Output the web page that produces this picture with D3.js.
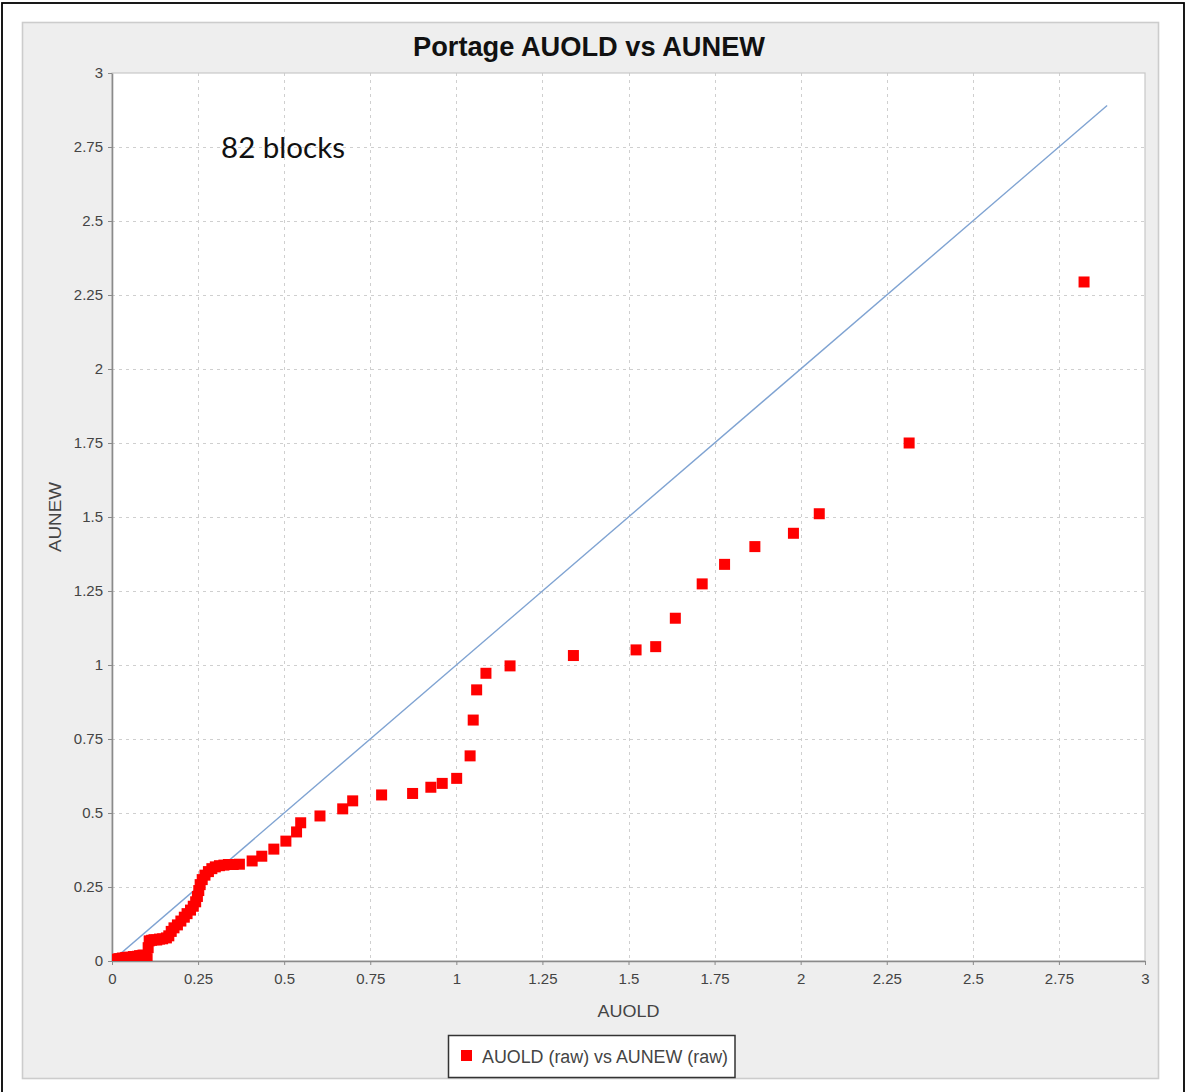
<!DOCTYPE html>
<html>
<head>
<meta charset="utf-8">
<script src="https://cdn.jsdelivr.net/npm/d3@7"></script>
<style>
  html, body { margin: 0; padding: 0; background: #ffffff; }
  svg { display: block; }
</style>
</head>
<body>
<svg id="chart" width="1186" height="1092"></svg>
<script>
// Block grades: old assay (AUOLD) against new assay (AUNEW), 82 blocks
const auold = [
  0.004, 0.008, 0.012, 0.016, 0.020, 0.025, 0.030, 0.035, 0.040, 0.045,
  0.050, 0.056, 0.062, 0.068, 0.074, 0.080, 0.085, 0.090, 0.094, 0.098, 0.102,
  0.105, 0.108, 0.115, 0.122, 0.130, 0.138, 0.147, 0.158,
  0.165, 0.172, 0.180, 0.190, 0.200, 0.210, 0.218, 0.228, 0.236,
  0.243, 0.248, 0.252, 0.256, 0.262, 0.270,
  0.280, 0.290, 0.300, 0.312, 0.325, 0.338, 0.352, 0.370,
  0.407, 0.435, 0.470, 0.505, 0.536, 0.548,
  0.604, 0.670, 0.699, 0.783, 0.873, 0.926, 0.959, 1.001, 1.040, 1.049,
  1.059, 1.086, 1.156, 1.340, 1.522, 1.579, 1.636, 1.714, 1.779, 1.867,
  1.979, 2.054, 2.315, 2.823
];
const aunew = [
  0.003, 0.004, 0.006, 0.005, 0.008, 0.007, 0.010, 0.009, 0.012, 0.011,
  0.013, 0.012, 0.015, 0.014, 0.016, 0.018, 0.017, 0.020, 0.019, 0.015, 0.008,
  0.045, 0.068, 0.070, 0.072, 0.071, 0.074, 0.075, 0.078,
  0.085, 0.100, 0.112, 0.122, 0.135, 0.148, 0.160, 0.172, 0.185,
  0.200, 0.218, 0.238, 0.258, 0.275, 0.290,
  0.302, 0.312, 0.318, 0.322, 0.324, 0.326, 0.326, 0.327,
  0.338, 0.354, 0.378, 0.405, 0.436, 0.467,
  0.490, 0.514, 0.541, 0.561, 0.566, 0.587, 0.600, 0.617, 0.693, 0.814,
  0.916, 0.972, 0.997, 1.032, 1.051, 1.062, 1.158, 1.274, 1.340, 1.400,
  1.445, 1.511, 1.750, 2.294
];
// 1:1 reference line end points
const refLine = [0, 2.89];
const tickValues = [0, 0.25, 0.5, 0.75, 1, 1.25, 1.5, 1.75, 2, 2.25, 2.5, 2.75, 3];
const tickLabels = ["0", "0.25", "0.5", "0.75", "1", "1.25", "1.5", "1.75", "2", "2.25", "2.5", "2.75", "3"];

const titleText = "Portage AUOLD vs AUNEW";
const noteText = "82 blocks";
const xTitle = "AUOLD";
const yTitle = "AUNEW";
const legendText = "AUOLD (raw) vs AUNEW (raw)";

const svg = d3.select("#chart");
const W = 1186, H = 1092;
const plot = { left: 112, right: 1145, top: 73, bottom: 961 };

const x = d3.scaleLinear().domain([0, 3]).range([plot.left, plot.right]);
const y = d3.scaleLinear().domain([0, 3]).range([plot.bottom, plot.top]);

// page background and frame
svg.append("rect").attr("width", W).attr("height", H).attr("fill", "#ffffff");
svg.append("rect")
  .attr("x", 2).attr("y", 3).attr("width", 1182).attr("height", 1120)
  .attr("fill", "none").attr("stroke", "#000").attr("stroke-width", 1.8);

// chart panel
svg.append("rect")
  .attr("x", 22.5).attr("y", 22.5).attr("width", 1136).attr("height", 1056)
  .attr("fill", "#eeeeee").attr("stroke", "#cccccc").attr("stroke-width", 1.6);

// plot background
svg.append("rect")
  .attr("x", plot.left).attr("y", plot.top)
  .attr("width", plot.right - plot.left).attr("height", plot.bottom - plot.top)
  .attr("fill", "#ffffff");

// gridlines
const grid = svg.append("g").attr("stroke", "#cfcfcf").attr("stroke-width", 1)
  .attr("stroke-dasharray", "3,4");
grid.selectAll("line.gx").data(tickValues.slice(1, -1)).join("line")
  .attr("x1", d => Math.round(x(d)) + 0.5).attr("x2", d => Math.round(x(d)) + 0.5)
  .attr("y1", plot.top).attr("y2", plot.bottom);
grid.selectAll("line.gy").data(tickValues.slice(1, -1)).join("line")
  .attr("y1", d => Math.round(y(d)) + 0.5).attr("y2", d => Math.round(y(d)) + 0.5)
  .attr("x1", plot.left).attr("x2", plot.right);

// plot outline
svg.append("rect")
  .attr("x", plot.left).attr("y", plot.top)
  .attr("width", plot.right - plot.left).attr("height", plot.bottom - plot.top)
  .attr("fill", "none").attr("stroke", "#c8c8c8").attr("stroke-width", 1.2);

// clip region for data marks
svg.append("clipPath").attr("id", "plotClip").append("rect")
  .attr("x", plot.left).attr("y", plot.top)
  .attr("width", plot.right - plot.left).attr("height", plot.bottom - plot.top);

// axes
const fmt = d => tickLabels[tickValues.indexOf(d)];
const xAxis = d3.axisBottom(x).tickValues(tickValues).tickFormat(fmt)
  .tickSizeInner(4).tickSizeOuter(0).tickPadding(8);
const yAxis = d3.axisLeft(y).tickValues(tickValues).tickFormat(fmt)
  .tickSizeInner(4).tickSizeOuter(0).tickPadding(5);

function styleAxis(g) {
  g.select(".domain").attr("stroke", "#8a8a8a").attr("stroke-width", 1.6);
  g.selectAll(".tick line").attr("stroke", "#8a8a8a").attr("stroke-width", 1);
  g.selectAll(".tick text")
    .attr("fill", "#444444")
    .style("font-family", "'Liberation Sans', Arial, sans-serif")
    .style("font-size", "15px");
}
svg.append("g").attr("transform", `translate(0,${plot.bottom})`).call(xAxis).call(styleAxis);
svg.append("g").attr("transform", `translate(${plot.left},0)`).call(yAxis).call(styleAxis);

// data layer
const layer = svg.append("g").attr("clip-path", "url(#plotClip)");

// y = x reference line
layer.append("line")
  .attr("x1", x(refLine[0])).attr("y1", y(refLine[0]))
  .attr("x2", x(refLine[1])).attr("y2", y(refLine[1]))
  .attr("stroke", "#7fa3d2").attr("stroke-width", 1.4);

// block markers
const S = 11;
layer.selectAll("rect.pt").data(auold.map((v, i) => [v, aunew[i]])).join("rect")
  .attr("class", "pt")
  .attr("x", d => x(d[0]) - S / 2).attr("y", d => y(d[1]) - S / 2)
  .attr("width", S).attr("height", S)
  .attr("fill", "#ff0000");

// title
svg.append("text")
  .attr("x", 589).attr("y", 56)
  .attr("text-anchor", "middle")
  .attr("textLength", 352).attr("lengthAdjust", "spacingAndGlyphs")
  .style("font-family", "'Liberation Sans', Arial, sans-serif")
  .style("font-size", "27px").style("font-weight", "bold")
  .attr("fill", "#111111")
  .text(titleText);

// annotation
svg.append("text")
  .attr("x", 221).attr("y", 158)
  .attr("textLength", 124).attr("lengthAdjust", "spacingAndGlyphs")
  .style("font-family", "Lato, 'Open Sans', sans-serif")
  .style("font-size", "29px")
  .attr("fill", "#111111")
  .text(noteText);

// axis titles
svg.append("text")
  .attr("x", (plot.left + plot.right) / 2).attr("y", 1017)
  .attr("text-anchor", "middle")
  .attr("textLength", 62).attr("lengthAdjust", "spacingAndGlyphs")
  .style("font-family", "'Liberation Sans', Arial, sans-serif")
  .style("font-size", "17px").attr("fill", "#444444")
  .text(xTitle);
svg.append("text")
  .attr("transform", `translate(61,${(plot.top + plot.bottom) / 2}) rotate(-90)`)
  .attr("text-anchor", "middle")
  .attr("textLength", 70).attr("lengthAdjust", "spacingAndGlyphs")
  .style("font-family", "'Liberation Sans', Arial, sans-serif")
  .style("font-size", "17px").attr("fill", "#444444")
  .text(yTitle);

// legend
const lg = svg.append("g");
lg.append("rect")
  .attr("x", 448.5).attr("y", 1035.5).attr("width", 286.5).attr("height", 42)
  .attr("fill", "#ffffff").attr("stroke", "#333333").attr("stroke-width", 1.5);
lg.append("rect")
  .attr("x", 461).attr("y", 1050).attr("width", S).attr("height", S)
  .attr("fill", "#ff0000");
lg.append("text")
  .attr("x", 482).attr("y", 1063)
  .attr("textLength", 246).attr("lengthAdjust", "spacingAndGlyphs")
  .style("font-family", "'Liberation Sans', Arial, sans-serif")
  .style("font-size", "18px").attr("fill", "#444444")
  .text(legendText);
</script>
</body>
</html>
